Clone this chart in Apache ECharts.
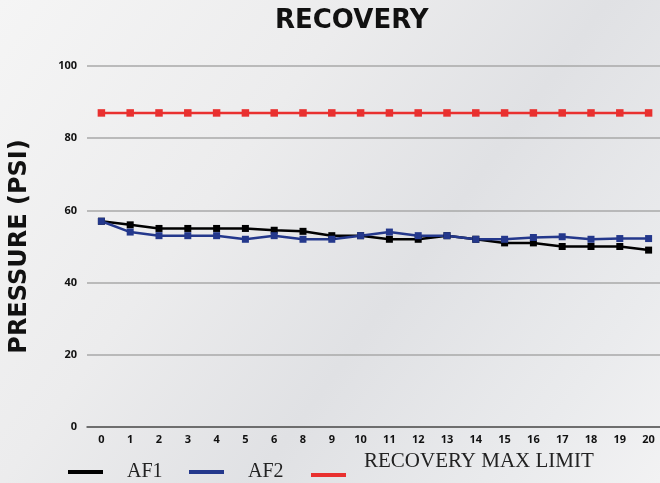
<!DOCTYPE html>
<html>
<head>
<meta charset="utf-8">
<script src="https://cdn.jsdelivr.net/npm/echarts@6/dist/echarts.min.js"></script>
<style>
html,body{margin:0;padding:0;}
#c{width:660px;height:483px;}
</style>
</head>
<body>
<div id="c"></div>
<script>
const categories = ['0','1','2','3','4','5','6','8','9','10','11','12','13','14','15','16','17','18','19','20'];
const af1 = [57,56,55,55,55,55,54.5,54.2,53,53,52,52,53,52,51,51,50,50,50,49];
const af2 = [57,54,53,53,53,52,53,52,52,53,54,53,53,52,52,52.5,52.7,52,52.2,52.2];
const maxLimit = [87,87,87,87,87,87,87,87,87,87,87,87,87,87,87,87,87,87,87,87];
const yTicks = {min:0, max:100, interval:20};

const chart = echarts.init(document.getElementById('c'), null, {renderer:'canvas'});
const legendText = {fontFamily:'"Liberation Serif", serif', fontSize:20, color:'#222'};
chart.setOption({
  animation:false,
  backgroundColor:{type:'linear', x:0, y:0, x2:1, y2:1, colorStops:[
    {offset:0, color:'#f5f5f5'}, {offset:0.35, color:'#ececed'}, {offset:0.6, color:'#e0e1e4'}, {offset:0.85, color:'#eaebed'}, {offset:1, color:'#f2f2f3'}]},
  title:{text:'RECOVERY', left:275, top:8, padding:0,
    textStyle:{fontFamily:'"DejaVu Sans"', fontWeight:'bold', fontSize:26, color:'#111'}},
  grid:{left:87, right:-3, top:66, bottom:56, containLabel:false, outerBoundsMode:'none'},
  legend:[
    {data:['AF1'], left:68, top:462, padding:0, icon:'rect', itemWidth:35, itemHeight:4, textStyle:Object.assign({padding:[0,0,0,19]}, legendText)},
    {data:['AF2'], left:189, top:462, padding:0, icon:'rect', itemWidth:35, itemHeight:4, textStyle:Object.assign({padding:[0,0,0,19]}, legendText)},
    {data:['RECOVERY MAX LIMIT'], left:311, bottom:-19, padding:0, icon:'rect', itemWidth:35, itemHeight:4,
      formatter:'{name}\n ',
      textStyle:{fontFamily:'"Liberation Serif", serif', fontSize:21, color:'#222', lineHeight:27, padding:[0,0,0,13]}}
  ],
  xAxis:{type:'category', data:categories, boundaryGap:true,
    axisLine:{show:true, lineStyle:{color:'#555', width:1.5}},
    axisTick:{show:false},
    axisLabel:{margin:7, fontFamily:'"Open Sans"', fontWeight:'bold', fontSize:11, color:'#111', interval:0}},
  yAxis:{type:'value', min:yTicks.min, max:yTicks.max, interval:yTicks.interval,
    name:'PRESSURE (PSI)', nameLocation:'middle', nameRotate:90, nameGap:55,
    nameTextStyle:{fontFamily:'"DejaVu Sans"', fontWeight:'bold', fontSize:24, color:'#111'},
    axisLine:{show:false}, axisTick:{show:false},
    axisLabel:{margin:10, fontFamily:'"Open Sans"', fontWeight:'bold', fontSize:11, color:'#111'},
    splitLine:{lineStyle:{color:'#a9a9a9', width:1.5}}},
  series:[
    {name:'AF1', type:'line', data:af1, color:'#000000', symbol:'rect', symbolSize:7, showAllSymbol:true,
      lineStyle:{width:2.5, color:'#000'}, itemStyle:{color:'#000'}},
    {name:'AF2', type:'line', data:af2, color:'#24388c', symbol:'rect', symbolSize:7, showAllSymbol:true,
      lineStyle:{width:2.5, color:'#24388c'}, itemStyle:{color:'#24388c'}},
    {name:'RECOVERY MAX LIMIT', type:'line', data:maxLimit, color:'#e9302f', symbol:'rect', symbolSize:7.5, showAllSymbol:true,
      lineStyle:{width:2.5, color:'#e9302f'}, itemStyle:{color:'#e9302f'}}
  ]
});
</script>
</body>
</html>
